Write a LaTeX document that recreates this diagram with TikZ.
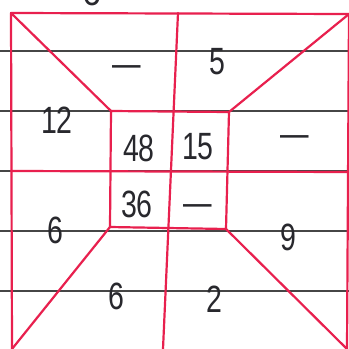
\documentclass[tikz,border=0pt]{standalone}
\usepackage{fontspec}
\usepackage{graphicx}
\setmainfont{Liberation Sans}
\definecolor{ink}{RGB}{40,40,45}
\definecolor{pinkred}{RGB}{232,32,78}
\definecolor{ruling}{RGB}{70,70,70}
\begin{document}
\begin{tikzpicture}[x=1pt,y=-1pt,
  redline/.style={draw=pinkred,line width=2.2pt,line cap=round,line join=round},
  ruleline/.style={draw=ruling,line width=1.1pt},
  hand/.style={text=ink,inner sep=0pt,font=\fontsize{38}{38}\selectfont}]
\useasboundingbox (0,0) rectangle (349,349);
\fill[white] (0,0) rectangle (349,349);
% notebook rulings
\foreach \yy in {51,111,171,231,291}
  \draw[ruleline] (0,\yy) -- (349,\yy);
% corners
\coordinate (OTL) at (11,13);
\coordinate (OTR) at (349,14);
\coordinate (OBR) at (347,349);
\coordinate (OBL) at (12,349);
\coordinate (ITL) at (111,111);
\coordinate (ITR) at (229,112);
\coordinate (IBR) at (226,229);
\coordinate (IBL) at (110,227);
\coordinate (VT) at (178,13);
\coordinate (VB) at (163,349);
\coordinate (HL) at (11,171);
\coordinate (HR) at (349,172);
% outer square
\draw[redline] (OBL) -- (OTL) -- (OTR);
\draw[redline] (OTR) -- (OBR);
% inner square
\draw[redline] (ITL) -- (ITR) -- (IBR) -- (IBL) -- cycle;
% diagonals
\draw[redline] (OTL) -- (ITL);
\draw[redline] (OTR) -- (ITR);
\draw[redline] (OBL) -- (IBL);
\draw[redline] (OBR) -- (IBR);
% centre lines
\draw[redline] (VT) -- (VB);
\draw[redline] (HL) -- (HR);
% numbers
\node[hand] (ttop) at (92,-8) {\scalebox{0.9}[1]{6}};
\node[hand] (tdash) at (127,71) {\scalebox{0.75}[1]{—}};
\node[hand] (tfive) at (217,62) {\scalebox{0.75}[1]{5}};
\node[hand] (ttwelve) at (57,120) {\scalebox{0.75}[1]{12}};
\node[hand] (tfortyeight) at (139,148) {\scalebox{0.75}[1]{48}};
\node[hand] (tfifteen) at (198,147) {\scalebox{0.75}[1]{15}};
\node[hand] (rdash) at (295,141) {\scalebox{0.75}[1]{—}};
\node[hand] (tthirtysix) at (137,204) {\scalebox{0.75}[1]{36}};
\node[hand] (idash) at (198,210) {\scalebox{0.75}[1]{—}};
\node[hand] (lsix) at (55,230) {\scalebox{0.75}[1]{6}};
\node[hand] (rnine) at (288,237) {\scalebox{0.75}[1]{9}};
\node[hand] (bsix) at (116,296) {\scalebox{0.75}[1]{6}};
\node[hand] (btwo) at (214,299) {\scalebox{0.75}[1]{2}};
\end{tikzpicture}
\end{document}
